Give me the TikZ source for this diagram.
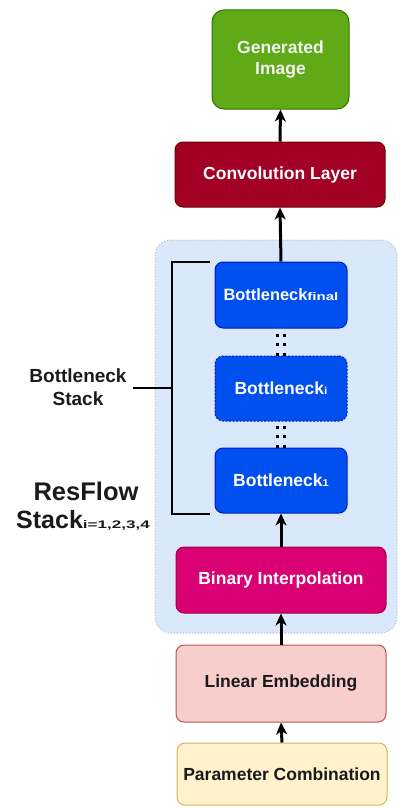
\documentclass[tikz,border=0pt]{standalone}
\usepackage{fontspec}
\setmainfont{Liberation Sans}
\usetikzlibrary{arrows.meta}
\definecolor{genfill}{HTML}{60A917}
\definecolor{genline}{HTML}{2D7600}
\definecolor{convfill}{HTML}{A20025}
\definecolor{convline}{HTML}{6F0000}
\definecolor{bnfill}{HTML}{0050EF}
\definecolor{bnline}{HTML}{001DBC}
\definecolor{binfill}{HTML}{D80073}
\definecolor{binline}{HTML}{A50040}
\definecolor{linfill}{HTML}{F8CECC}
\definecolor{linline}{HTML}{B85450}
\definecolor{parfill}{HTML}{FFF2CC}
\definecolor{parline}{HTML}{D6B656}
\definecolor{contfill}{HTML}{DAE8FC}
\definecolor{contline}{HTML}{B4BCC8}
\definecolor{darktext}{HTML}{1A1A1A}
\newcommand{\subtxt}[3]{\scalebox{#2}[1]{\fontsize{#1}{#1}\selectfont #3}}
\begin{document}
\begin{tikzpicture}[x=1pt,y=-1pt,
  box/.style={draw, line width=1pt, rounded corners=8pt, minimum width=210pt,
    minimum height=65pt, font=\fontsize{17.5}{21}\selectfont\bfseries,
    text=white, align=center, inner sep=0pt},
  bnbox/.style={box, fill=bnfill, draw=bnline, minimum width=132pt},
  arr/.style={-{Stealth[length=12pt,width=11pt,inset=3.5pt]}, line width=3pt},
  dotline/.style={line width=3pt, dash pattern=on 3pt off 6.5pt},
  brk/.style={line width=2.5pt},
  lbl/.style={font=\fontsize{19}{23}\selectfont\bfseries, text=darktext, inner sep=0pt}]
\useasboundingbox (0,0) rectangle (399,808);

% container
\node[draw=contline, fill=contfill, dotted, line width=1pt, rounded corners=16pt,
  minimum width=242pt, minimum height=393pt, inner sep=0pt] (cont) at (276,436.5) {};

% boxes
\node[box, fill=genfill, draw=genline, minimum width=137pt, minimum height=99pt,
  rounded corners=12pt, text=white!95!black] (gen) at (280.5,59.5) {Generated\\Image};
\node[box, fill=convfill, draw=convline] (conv) at (280,174.5) {Convolution Layer};
\node[bnbox, minimum height=66pt, font=\fontsize{16.4}{19}\selectfont\bfseries] (bf) at (281,295)
  {Bottleneck\subtxt{11}{1.37}{final}};
\node[bnbox, dash pattern=on 2pt off 1.5pt] (bi) at (281,388.5) {Bottleneck\subtxt{10}{1.2}{i}};
\node[bnbox] (b1) at (281,480.5) {Bottleneck\subtxt{10}{1.1}{1}};
\node[box, fill=binfill, draw=binline, minimum height=66pt] (bin) at (281,580) {Binary Interpolation};
\node[box, fill=linfill, draw=linline, minimum height=77pt, text=darktext] (lin) at (281,683.5) {Linear Embedding};
\node[box, fill=parfill, draw=parline, minimum height=62pt, text=darktext] (par) at (282,774) {Parameter Combination};

% arrows
\draw[arr] (par.north) -- (lin.south);
\draw[arr] (lin.north) -- (bin.south);
\draw[arr] (bin.north) -- (b1.south);
\draw[arr] (bf.north) -- (conv.south);
\draw[arr] (conv.north) -- (gen.south);

% dotted links
\draw[dotline] ([xshift=-3.5pt]bi.north) -- ([xshift=-3.5pt]bf.south);
\draw[dotline] ([xshift=3.5pt]bi.north) -- ([xshift=3.5pt]bf.south);
\draw[dotline] ([xshift=-3.5pt]b1.north) -- ([xshift=-3.5pt]bi.south);
\draw[dotline] ([xshift=3.5pt]b1.north) -- ([xshift=3.5pt]bi.south);

% bracket
\coordinate (bt) at (210,262);
\coordinate (bb) at (210,514);
\coordinate (bm) at (133,388);
\draw[brk] (bt) -- (172,262) -- (172,514) -- (bb);
\draw[brk] (172,388) -- (bm);

% labels
\node[lbl, anchor=base] (bsl1) at (78,382) {Bottleneck};
\node[lbl, anchor=base] (bsl2) at (78,405) {Stack};
\node[lbl, font=\fontsize{25.5}{28}\selectfont\bfseries, anchor=base] (rf) at (86,500) {ResFlow};
\node[lbl, font=\fontsize{25}{28}\selectfont\bfseries, anchor=base west] (st) at (16,528)
  {Stack\subtxt{11}{1.55}{i=1,2,3,4}};
\end{tikzpicture}
\end{document}
